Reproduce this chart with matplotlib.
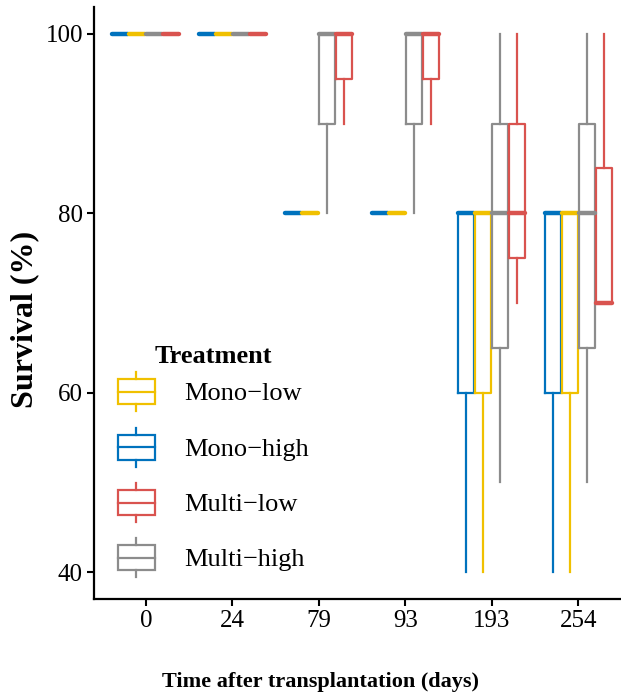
import matplotlib
matplotlib.use("Agg")
import matplotlib.pyplot as plt
from matplotlib.lines import Line2D
from matplotlib.patches import Rectangle
from matplotlib.legend_handler import HandlerBase

plt.rcParams['font.family'] = ['Liberation Serif', 'DejaVu Serif']

days = ["0", "24", "79", "93", "193", "254"]

# each tuple: (lower whisker, q1, median, q3, upper whisker)
mono_high = [(100, 100, 100, 100, 100), (100, 100, 100, 100, 100),
             (80, 80, 80, 80, 80), (80, 80, 80, 80, 80),
             (40, 60, 80, 80, 80), (40, 60, 80, 80, 80)]
mono_low = [(100, 100, 100, 100, 100), (100, 100, 100, 100, 100),
            (80, 80, 80, 80, 80), (80, 80, 80, 80, 80),
            (40, 60, 80, 80, 80), (40, 60, 80, 80, 80)]
multi_high = [(100, 100, 100, 100, 100), (100, 100, 100, 100, 100),
              (80, 90, 100, 100, 100), (80, 90, 100, 100, 100),
              (50, 65, 80, 90, 100), (50, 65, 80, 90, 100)]
multi_low = [(100, 100, 100, 100, 100), (100, 100, 100, 100, 100),
             (90, 95, 100, 100, 100), (90, 95, 100, 100, 100),
             (70, 75, 80, 90, 100), (70, 70, 70, 85, 100)]

# dodge order (alphabetical like ggplot) and legend order
series = [("Mono\u2212high", mono_high, "#0072BD"),
          ("Mono\u2212low", mono_low, "#F0C000"),
          ("Multi\u2212high", multi_high, "#8C8C8C"),
          ("Multi\u2212low", multi_low, "#D9534F")]
legend_order = ["Mono\u2212low", "Mono\u2212high", "Multi\u2212low", "Multi\u2212high"]

W, H = 621, 697
fig = plt.figure(figsize=(W / 100, H / 100), dpi=100)
ax = fig.add_axes([94 / W, 98 / H, 536 / W, 592 / H])

step = 0.197
offsets = [-1.5 * step, -0.5 * step, 0.5 * step, 1.5 * step]

for (name, data, col), off in zip(series, offsets):
    stats = []
    for lo, q1, med, q3, hi in data:
        stats.append(dict(whislo=lo, q1=q1, med=med, q3=q3, whishi=hi, fliers=[]))
    pos = [i + 1 + off for i in range(len(days))]
    ax.bxp(stats, positions=pos, widths=step * 0.93, showcaps=False,
           showfliers=False, manage_ticks=False,
           boxprops=dict(color=col, linewidth=1.6),
           whiskerprops=dict(color=col, linewidth=1.6),
           medianprops=dict(color=col, linewidth=3.2, solid_capstyle='round'))


class BoxHandler(HandlerBase):
    def create_artists(self, legend, orig_handle, xdescent, ydescent,
                       width, height, fontsize, trans):
        c = orig_handle.get_color()
        x0, y0 = -xdescent, -ydescent
        bh = height * 0.64
        by = y0 + (height - bh) / 2
        xc = x0 + width / 2
        rect = Rectangle((x0, by), width, bh, facecolor='white', edgecolor=c,
                         linewidth=1.6, transform=trans)
        med = Line2D([x0, x0 + width], [y0 + height / 2] * 2, color=c,
                     linewidth=1.6, transform=trans)
        up = Line2D([xc, xc], [by + bh, y0 + height], color=c, linewidth=1.6,
                    transform=trans)
        dn = Line2D([xc, xc], [y0, by], color=c, linewidth=1.6, transform=trans)
        return [rect, med, up, dn]


cols = {n: c for n, _, c in series}
handles = [Line2D([], [], color=cols[n]) for n in legend_order]
leg = fig.legend(handles, legend_order, loc='upper left',
                 bbox_to_anchor=(118 / W, (H - 345) / H),
                 handler_map={Line2D: BoxHandler()}, frameon=False,
                 fontsize=19, title="Treatment",
                 title_fontproperties={'weight': 'bold', 'size': 19},
                 handlelength=1.4, handleheight=1.9, labelspacing=0.62,
                 handletextpad=1.1, borderpad=0, borderaxespad=0)
# tighter gap between the legend title and the keys
leg._legend_box.sep = 3

ax.set_xlim(0.4, 6.6)
ax.set_ylim(37, 103)
ax.set_xticks(range(1, len(days) + 1))
ax.set_xticklabels(days)
ax.set_yticks([40, 60, 80, 100])
ax.tick_params(axis='both', labelsize=18, length=5, width=1.5, colors='black',
               pad=3)
for s in ['top', 'right']:
    ax.spines[s].set_visible(False)
for s in ['left', 'bottom']:
    ax.spines[s].set_linewidth(1.6)

ax.set_xlabel("Time after transplantation (days)", fontsize=16, fontweight='bold')
ax.xaxis.set_label_coords((320 - 94) / 536, (599 - 672) / 592)
ax.set_ylabel("Survival (%)", fontsize=23, fontweight='bold')
ax.yaxis.set_label_coords((39 - 94) / 536, (599 - 319) / 592)

fig.savefig("out.png", dpi=100)
